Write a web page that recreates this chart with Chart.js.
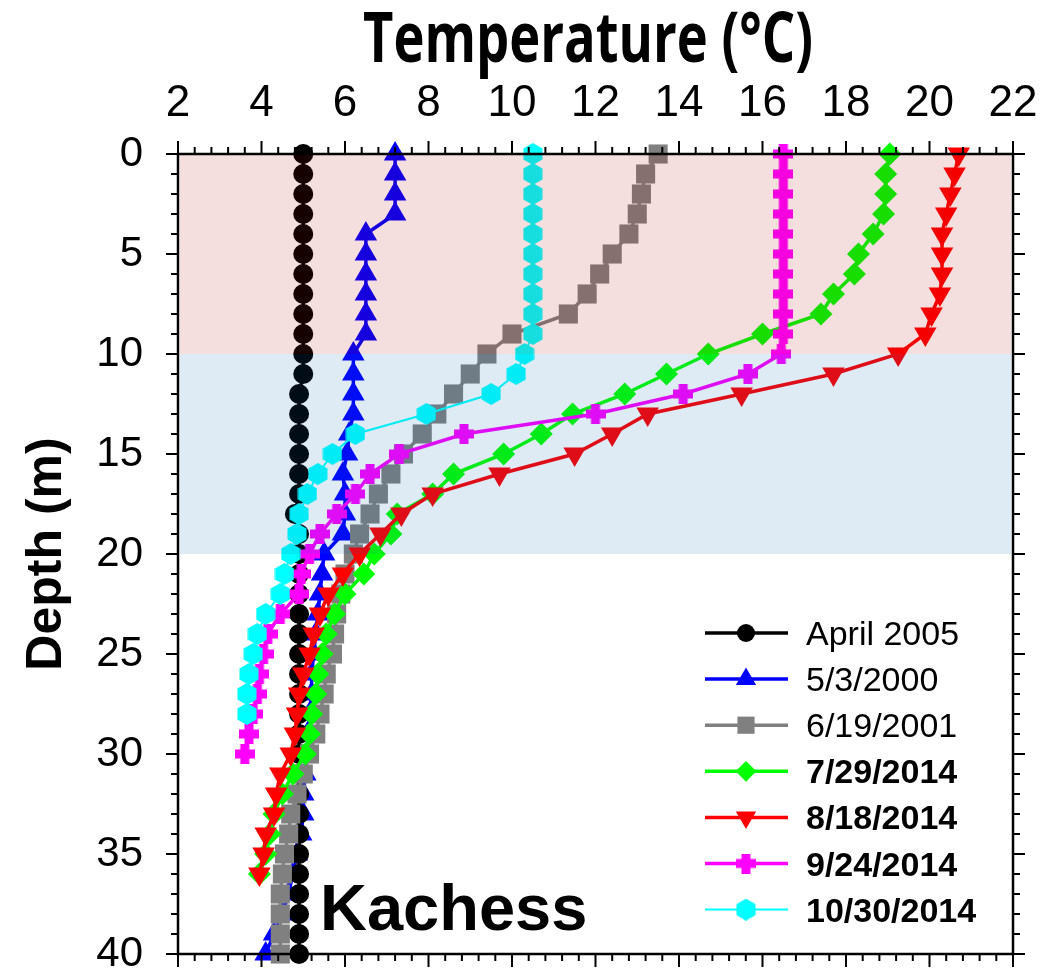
<!DOCTYPE html>
<html>
<head>
<meta charset="utf-8">
<title>Kachess temperature profiles</title>
<script src="https://cdn.jsdelivr.net/npm/chart.js@4.4.1/dist/chart.umd.min.js"></script>
<style>
  html, body { margin: 0; padding: 0; background: #fff; }
  #wrap { width: 1063px; height: 972px; }
</style>
</head>
<body>
<div id="wrap"><canvas id="profileChart" width="1063" height="972"></canvas></div>
<script>
// Sampling depths (m)
const depths0to40 = [0, 1, 2, 3, 4, 5, 6, 7, 8, 9, 10, 11, 12, 13, 14, 15, 16, 17, 18, 19, 20,
  21, 22, 23, 24, 25, 26, 27, 28, 29, 30, 31, 32, 33, 34, 35, 36, 37, 38, 39, 40];
const depths0to36 = [0, 1, 2, 3, 4, 5, 6, 7, 8, 9, 10, 11, 12, 13, 14, 15, 16, 17, 18, 19, 20,
  21, 22, 23, 24, 25, 26, 27, 28, 29, 30, 31, 32, 33, 34, 35, 36];
const depths0to30 = [0, 1, 2, 3, 4, 5, 6, 7, 8, 9, 10, 11, 12, 13, 14, 15, 16, 17, 18, 19, 20,
  21, 22, 23, 24, 25, 26, 27, 28, 29, 30];
const depths0to28 = [0, 1, 2, 3, 4, 5, 6, 7, 8, 9, 10, 11, 12, 13, 14, 15, 16, 17, 18, 19, 20,
  21, 22, 23, 24, 25, 26, 27, 28];

// Temperature profiles (°C)
const tempApr2005 = [5.0, 5.0, 5.0, 5.0, 5.0, 5.0, 5.0, 5.0, 5.0, 5.0, 5.0, 5.0, 4.9, 4.9, 4.9, 4.9,
  4.9, 4.9, 4.8, 4.9, 4.9, 4.9, 4.9, 4.9, 4.9, 4.9, 4.9, 4.9, 4.9, 4.9, 4.9, 4.9, 4.9, 4.9, 4.9, 4.9,
  4.9, 4.9, 4.9, 4.9, 4.9];
const tempMay2000 = [7.2, 7.2, 7.2, 7.2, 6.5, 6.5, 6.5, 6.5, 6.5, 6.5, 6.2, 6.2, 6.2, 6.2, 6.1, 6.05,
  5.95, 6.0, 6.0, 5.95, 5.5, 5.45, 5.4, 5.35, 5.3, 5.25, 5.2, 5.2, 5.15, 5.1, 5.1, 5.05, 5.0, 5.0,
  4.95, 4.85, 4.75, 4.65, 4.5, 4.3, 4.1];
const tempJun2001 = [13.5, 13.2, 13.1, 13.0, 12.8, 12.4, 12.1, 11.8, 11.35, 10.0, 9.4, 9.0, 8.6, 8.2,
  7.85, 7.4, 7.1, 6.8, 6.6, 6.35, 6.2, 6.0, 5.9, 5.8, 5.75, 5.7, 5.55, 5.5, 5.4, 5.3, 5.15, 5.0, 4.85,
  4.7, 4.65, 4.55, 4.5, 4.45, 4.45, 4.45, 4.45];
const tempJul2014 = [19.05, 18.95, 18.95, 18.9, 18.65, 18.3, 18.2, 17.7, 17.4, 16.0, 14.7, 13.7, 12.7,
  11.45, 10.7, 9.8, 8.6, 8.1, 7.25, 7.1, 6.7, 6.45, 6.0, 5.75, 5.55, 5.45, 5.35, 5.3, 5.2, 5.15, 5.05,
  4.75, 4.5, 4.3, 4.2, 4.1, 3.95];
const tempAug2014 = [20.7, 20.6, 20.5, 20.4, 20.3, 20.3, 20.3, 20.25, 20.05, 19.9, 19.25, 17.7, 15.5,
  13.25, 12.4, 11.5, 9.7, 8.1, 7.35, 6.85, 6.35, 5.95, 5.6, 5.4, 5.25, 5.15, 5.0, 4.9, 4.85, 4.8, 4.7,
  4.45, 4.35, 4.3, 4.1, 4.05, 3.95];
const tempSep2014 = [16.5, 16.5, 16.5, 16.5, 16.5, 16.5, 16.5, 16.5, 16.5, 16.5, 16.45, 15.65, 14.1,
  12.0, 8.85, 7.3, 6.6, 6.25, 5.8, 5.4, 5.15, 4.95, 4.9, 4.45, 4.15, 4.05, 3.95, 3.9, 3.8, 3.7, 3.6];
const tempOct2014 = [10.5, 10.5, 10.5, 10.5, 10.5, 10.5, 10.5, 10.5, 10.5, 10.5, 10.3, 10.1, 9.5, 7.95,
  6.25, 5.7, 5.35, 5.1, 4.9, 4.85, 4.7, 4.55, 4.45, 4.1, 3.9, 3.8, 3.7, 3.65, 3.65];

const seriesNames = ['April 2005', '5/3/2000', '6/19/2001', '7/29/2014', '8/18/2014', '9/24/2014', '10/30/2014'];

// Depth ranges of the shaded layers (m)
const epilimnion = [0, 10];
const metalimnion = [10, 20];

const tempTicks = { min: 2, max: 22, step: 2, minor: 0.4 };
const depthTicks = { min: 0, max: 40, step: 5, minor: 1 };

const FONT = "'Liberation Sans', Arial, sans-serif";

// Filled marker shapes Chart.js doesn't ship with
function plusMarker(color, size, arm) {
  const c = document.createElement('canvas');
  c.width = size; c.height = size;
  const g = c.getContext('2d');
  g.fillStyle = color;
  const o = (size - arm) / 2;
  g.fillRect(o, 0, arm, size);
  g.fillRect(0, o, size, arm);
  return c;
}

function hexMarker(color, r) {
  const w = Math.ceil(r * Math.sqrt(3)), h = Math.ceil(r * 2);
  const c = document.createElement('canvas');
  c.width = w; c.height = h;
  const g = c.getContext('2d');
  g.fillStyle = color;
  g.beginPath();
  for (let k = 0; k < 6; k++) {
    const a = Math.PI / 3 * k - Math.PI / 2;
    const px = w / 2 + r * Math.cos(a), py = h / 2 + r * Math.sin(a);
    k === 0 ? g.moveTo(px, py) : g.lineTo(px, py);
  }
  g.closePath();
  g.fill();
  return c;
}

function toPoints(depths, temps) {
  return depths.map((d, i) => ({ x: temps[i], y: d }));
}

function profile(label, depths, temps, color, style, extra) {
  return Object.assign({
    label: label,
    data: toPoints(depths, temps),
    borderColor: color,
    backgroundColor: color,
    pointBackgroundColor: color,
    pointBorderWidth: 0,
    pointStyle: style,
    borderWidth: 3.5,
    tension: 0,
    clip: false
  }, extra);
}

const datasets = [
  profile(seriesNames[0], depths0to40, tempApr2005, '#000000', 'circle', { pointRadius: 10, order: 5 }),
  profile(seriesNames[1], depths0to40, tempMay2000, '#0000ff', 'triangle', { pointRadius: 13, order: 6 }),
  profile(seriesNames[2], depths0to40, tempJun2001, '#808080', 'rect', { pointRadius: 13.5, order: 4 }),
  profile(seriesNames[3], depths0to36, tempJul2014, '#00ff00', 'rectRot', { pointRadius: 11.5, order: 3 }),
  profile(seriesNames[4], depths0to36, tempAug2014, '#ff0000', 'triangle', { pointRadius: 13, pointRotation: 180, order: 2 }),
  profile(seriesNames[5], depths0to30, tempSep2014, '#ff00ff', plusMarker('#ff00ff', 20, 9), { pointRadius: 10, order: 1 }),
  profile(seriesNames[6], depths0to28, tempOct2014, '#00ffff', hexMarker('#00ffff', 11), { pointRadius: 10, borderWidth: 2, order: 0 })
];

// Translucent layer shading, laid over the profiles
const layerShading = {
  id: 'layerShading',
  afterDatasetsDraw(chart) {
    const { ctx, chartArea: a, scales: { y } } = chart;
    const bands = [
      { range: epilimnion, color: 'rgba(177, 0, 0, 0.13)' },
      { range: metalimnion, color: 'rgba(0, 100, 177, 0.13)' }
    ];
    ctx.save();
    bands.forEach(b => {
      const y0 = y.getPixelForValue(b.range[0]);
      const y1 = y.getPixelForValue(b.range[1]);
      ctx.fillStyle = b.color;
      ctx.fillRect(a.left + 2, y0, a.right - a.left - 4, y1 - y0);
    });
    ctx.restore();
  }
};

// Box frame with outward major/minor ticks on all four sides
const frameTicks = {
  id: 'frameTicks',
  afterDraw(chart) {
    const { ctx, chartArea: a, scales: { x, y } } = chart;
    ctx.save();
    ctx.strokeStyle = '#000';
    ctx.lineWidth = 2.5;
    ctx.strokeRect(a.left, a.top, a.right - a.left, a.bottom - a.top);
    ctx.lineWidth = 2;
    ctx.beginPath();
    const nx = Math.round((tempTicks.max - tempTicks.min) / tempTicks.minor);
    const perMajorX = Math.round(tempTicks.step / tempTicks.minor);
    for (let i = 0; i <= nx; i++) {
      const px = x.getPixelForValue(tempTicks.min + i * tempTicks.minor);
      const len = i % perMajorX === 0 ? 13 : 7;
      ctx.moveTo(px, a.top); ctx.lineTo(px, a.top - len);
      ctx.moveTo(px, a.bottom); ctx.lineTo(px, a.bottom + len);
    }
    const ny = Math.round((depthTicks.max - depthTicks.min) / depthTicks.minor);
    const perMajorY = Math.round(depthTicks.step / depthTicks.minor);
    for (let i = 0; i <= ny; i++) {
      const py = y.getPixelForValue(depthTicks.min + i * depthTicks.minor);
      const len = i % perMajorY === 0 ? 12 : 7;
      ctx.moveTo(a.left, py); ctx.lineTo(a.left - len, py);
      ctx.moveTo(a.right, py); ctx.lineTo(a.right + len, py);
    }
    ctx.stroke();
    ctx.restore();
  }
};

// Top title, lake name and the line+marker legend
const annotations = {
  id: 'annotations',
  afterDraw(chart) {
    const { ctx } = chart;
    ctx.save();

    const title = 'Temperature (°C)';
    ctx.font = "bold 70px 'Open Sans', sans-serif";
    const tw = ctx.measureText(title).width;
    ctx.translate(588, 62);
    ctx.scale(450 / tw, 1);
    ctx.fillStyle = '#000';
    ctx.textAlign = 'center';
    ctx.textBaseline = 'alphabetic';
    ctx.fillText(title, 0, 0);
    ctx.setTransform(1, 0, 0, 1, 0, 0);

    ctx.textAlign = 'left';
    ctx.font = 'bold 65px ' + FONT;
    ctx.fillText('Kachess', 320, 930);

    const top = 633, gap = 46.1;
    chart.data.datasets.forEach((ds, i) => {
      const cy = top + i * gap;
      ctx.strokeStyle = ds.borderColor;
      ctx.lineWidth = ds.borderWidth;
      ctx.beginPath();
      ctx.moveTo(705, cy); ctx.lineTo(788, cy);
      ctx.stroke();
      ctx.fillStyle = ds.pointBackgroundColor;
      Chart.helpers.drawPoint(ctx, {
        pointStyle: ds.pointStyle,
        radius: ds.pointRadius * 0.9,
        rotation: ds.pointRotation || 0,
        borderWidth: 0
      }, 746, cy);
      ctx.fillStyle = '#000';
      ctx.font = (i >= 3 ? 'bold ' : '') + '34px ' + FONT;
      ctx.fillText(ds.label, 806, cy + 12);
    });
    ctx.restore();
  }
};

new Chart(document.getElementById('profileChart'), {
  type: 'line',
  data: { datasets: datasets },
  options: {
    responsive: false,
    animation: false,
    devicePixelRatio: 1,
    layout: { padding: { left: 0, right: 50, top: 0, bottom: 18 } },
    plugins: { legend: { display: false }, tooltip: { enabled: false } },
    scales: {
      x: {
        type: 'linear',
        position: 'top',
        min: tempTicks.min,
        max: tempTicks.max,
        grid: { display: false, drawTicks: false },
        border: { display: false },
        ticks: {
          stepSize: tempTicks.step,
          autoSkip: false,
          maxRotation: 0,
          padding: 24,
          color: '#000',
          font: { family: FONT, size: 44 }
        },
        afterFit(scale) {
          scale.height = 154;
          scale.paddingLeft = 0;
          scale.paddingRight = 0;
        }
      },
      y: {
        type: 'linear',
        reverse: true,
        min: depthTicks.min,
        max: depthTicks.max,
        grid: { display: false, drawTicks: false },
        border: { display: false },
        ticks: {
          stepSize: depthTicks.step,
          autoSkip: false,
          padding: 35,
          color: '#000',
          font: { family: FONT, size: 42 }
        },
        title: {
          display: true,
          text: 'Depth (m)',
          color: '#000',
          font: { family: FONT, size: 50, weight: 'bold' },
          padding: { top: 17, bottom: 0 }
        },
        afterFit(scale) {
          scale.width = 178;
          scale.paddingTop = 0;
          scale.paddingBottom = 0;
        }
      }
    }
  },
  plugins: [layerShading, frameTicks, annotations]
});
</script>
</body>
</html>
